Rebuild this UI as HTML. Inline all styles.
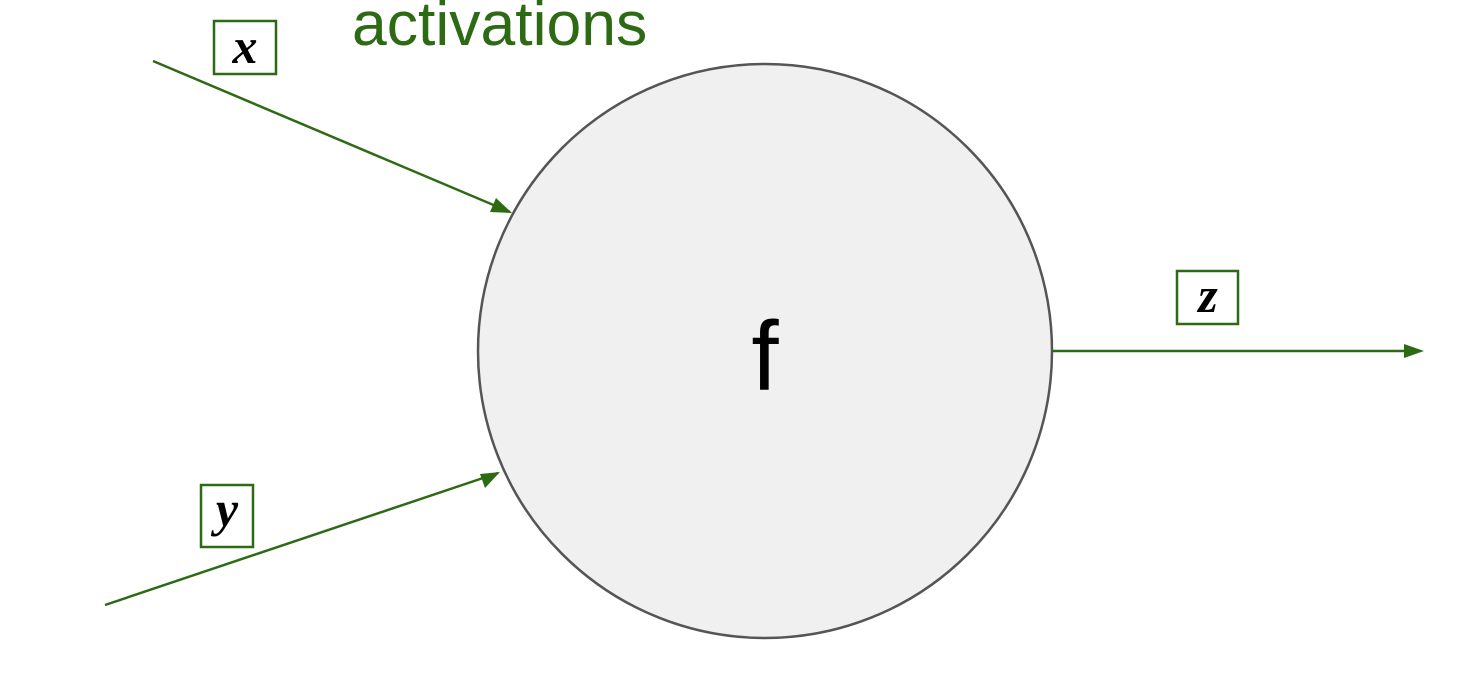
<!DOCTYPE html>
<html><head><style>html,body{margin:0;padding:0;background:#fff}</style></head><body>
<svg width="1482" height="693" xmlns="http://www.w3.org/2000/svg">
<circle cx="765" cy="351" r="287" fill="#f0f0f0" stroke="#555" stroke-width="2.5"/>
<text x="765" y="390" font-family="Liberation Sans, sans-serif" font-size="98" text-anchor="middle" fill="#000">f</text>
<text x="352" y="45" font-family="Liberation Sans, sans-serif" font-size="62.5" fill="#2d6a14">activations</text>
<g stroke="#2d6a14" stroke-width="2.5" fill="none">
<line x1="153" y1="61" x2="510" y2="212"/>
<line x1="105" y1="605" x2="498" y2="473"/>
<line x1="1052" y1="351" x2="1420" y2="351"/>
</g>
<g fill="#2d6a14">
<polygon points="512,213 490,212 496,198"/>
<polygon points="500,472 485,488 480,474"/>
<polygon points="1424,351 1404,344 1404,358"/>
</g>
<g stroke="#2d6a14" stroke-width="2.5" fill="#fff">
<rect x="214" y="21" width="62" height="53"/>
<rect x="201" y="485" width="52" height="62"/>
<rect x="1177" y="271" width="61" height="53"/>
</g>
<g font-family="Liberation Serif, serif" font-style="italic" font-weight="bold" font-size="50" fill="#000" text-anchor="middle">
<text x="245" y="63">x</text>
<text x="227" y="526">y</text>
<text x="1208" y="312">z</text>
</g>
</svg>
</body></html>
